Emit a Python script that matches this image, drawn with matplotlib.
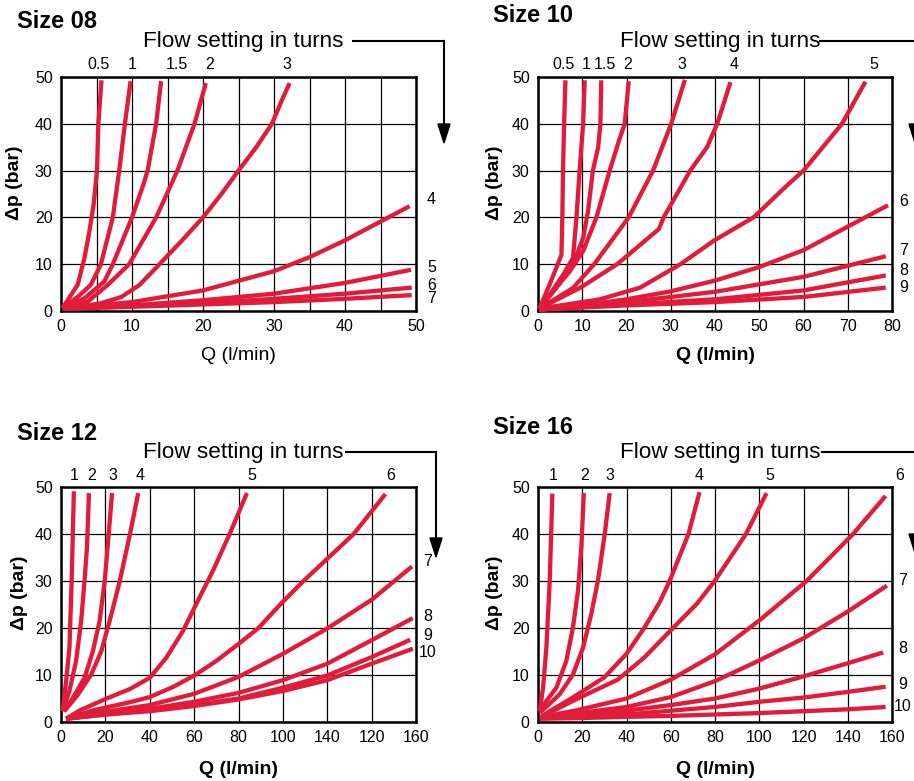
import matplotlib
matplotlib.use('Agg')
import matplotlib.pyplot as plt
from matplotlib.lines import Line2D
from matplotlib.patches import Polygon

plt.rcParams['font.family'] = ['Liberation Sans', 'DejaVu Sans']

RED = '#e31b3b'
W, H = 914, 781

# ---- Size 08 ----
s08_turns = ['0.5', '1', '1.5', '2', '3', '4', '5', '6', '7']
s08_q = [
    [0.2, 2.35, 3.3, 4.0, 4.6, 5.07, 5.26, 5.7],
    [0.2, 2.5, 4.2, 5.6, 7.3, 8.2, 9.0, 9.8],
    [0.2, 3.3, 6.1, 7.3, 10.0, 11.6, 12.2, 13.4, 14.1],
    [0.2, 3.75, 6.6, 9.6, 13.4, 16.4, 18.8, 20.4],
    [0.3, 5.5, 8.5, 11.0, 13.5, 17.0, 20.0, 22.6, 25.0, 27.5, 29.7, 31.1, 32.2],
    [0.3, 10, 20, 30, 35, 40, 49.1],
    [0.3, 10, 20, 30, 40, 49.3],
    [0.3, 10, 20, 30, 40, 49.4],
    [0.3, 10, 20, 30, 40, 49.4],
]
s08_dp = [
    [0.6, 5.6, 11.3, 17.0, 22.8, 30.0, 40.0, 49.3],
    [0.6, 3.2, 5.6, 9.9, 20.0, 30.0, 40.0, 49.1],
    [0.6, 2.7, 6.3, 10.0, 20.0, 27.0, 30.0, 40.0, 49.1],
    [0.5, 2.0, 5.6, 10.0, 20.0, 30.0, 40.0, 48.7],
    [0.5, 1.6, 3.0, 5.5, 9.4, 15.0, 20.0, 25.0, 30.0, 35.0, 40.0, 45.0, 48.7],
    [0.5, 1.9, 4.4, 8.5, 11.5, 15.1, 22.4],
    [0.5, 1.2, 2.3, 3.7, 6.0, 8.8],
    [0.5, 1.0, 1.7, 2.6, 3.7, 5.0],
    [0.5, 0.9, 1.4, 1.9, 2.6, 3.4],
]

# ---- Size 10 ----
s10_turns = ['0.5', '1', '1.5', '2', '3', '4', '5', '6', '7', '8', '9']
s10_q = [
    [0.3, 2.6, 5.3, 5.5, 5.65, 5.9, 6.2],
    [0.3, 2.6, 5.65, 7.9, 8.7, 9.4, 10.2, 10.55],
    [0.3, 4.1, 7.9, 10.2, 11.3, 12.4, 13.6, 14.1, 14.3],
    [0.3, 3.4, 7.2, 10.2, 13.2, 16.2, 18.3, 19.6, 20.5],
    [0.3, 7.9, 12.7, 20.5, 26.0, 30.1, 33.2],
    [0.3, 9.6, 17.9, 27.3, 28.4, 34.4, 38.2, 40.5, 43.5],
    [0.3, 14.0, 23.1, 32.2, 39.7, 48.7, 55.9, 60.0, 68.7, 74.0],
    [0.3, 10, 20, 30, 40, 50, 60, 79.1],
    [0.3, 20, 40, 60, 78.6],
    [0.3, 20, 40, 60, 78.6],
    [0.3, 20, 40, 60, 78.6],
]
s10_dp = [
    [0.5, 5.6, 12.0, 20.0, 30.0, 40.0, 49.3],
    [0.5, 3.4, 7.7, 11.3, 20.0, 30.0, 40.0, 49.3],
    [0.5, 4.9, 9.9, 15.6, 21.3, 30.0, 35.0, 40.0, 49.3],
    [0.5, 4.2, 8.5, 12.8, 20.0, 30.0, 36.4, 40.0, 49.1],
    [0.5, 4.9, 10.0, 20.0, 30.0, 40.0, 49.4],
    [0.5, 5.0, 10.0, 17.5, 20.0, 30.0, 35.0, 40.0, 48.9],
    [0.5, 2.5, 5.0, 10.0, 15.0, 20.0, 26.5, 30.0, 40.0, 49.0],
    [0.3, 1.2, 2.5, 4.2, 6.5, 9.4, 13.0, 22.6],
    [0.3, 1.9, 4.1, 7.3, 11.7],
    [0.3, 1.4, 2.5, 4.4, 7.6],
    [0.3, 1.2, 1.9, 3.0, 5.0],
]

# ---- Size 12 ----
s12_turns = ['1', '2', '3', '4', '5', '6', '7', '8', '9', '10']
s12_xticklabels = ['0', '20', '40', '60', '80', '100', '140', '120', '160']
s12_q = [
    [0.76, 2.6, 3.8, 4.8, 5.8],
    [1.2, 3.8, 6.8, 9.1, 10.6, 11.7, 12.6],
    [1.2, 5.3, 10.6, 14.4, 17.4, 19.7, 21.5, 23.0],
    [1.5, 7.6, 13.6, 18.2, 22.7, 26.5, 31.1, 34.8],
    [2.3, 8.6, 20.6, 31.0, 40.0, 47.5, 55.0, 61.8, 68.6, 76.1, 83.8],
    [2.3, 14.6, 31.0, 40.0, 50.7, 60.5, 70.0, 80.0, 89.0, 98.8, 109.3, 120.6, 131.9, 146.2],
    [2.3, 20, 40, 60, 80, 100, 120, 140, 158.2],
    [2.3, 20, 40, 60, 80, 100, 120, 140, 158.5],
    [2.3, 20, 40, 60, 80, 100, 120, 140, 157.4],
    [2.3, 20, 40, 60, 80, 100, 120, 140, 158.6],
]
s12_dp = [
    [2.3, 10.0, 15.8, 30.0, 49.1],
    [3.0, 6.6, 13.0, 21.5, 30.0, 37.2, 48.7],
    [2.3, 5.1, 9.4, 15.1, 21.5, 30.0, 40.0, 48.7],
    [2.3, 5.8, 10.1, 15.1, 22.9, 30.0, 40.0, 48.7],
    [0.7, 2.5, 5.0, 7.0, 9.4, 13.7, 19.4, 25.9, 32.3, 40.1, 48.7],
    [0.7, 2.5, 4.2, 5.3, 7.5, 10.0, 13.0, 16.6, 20.0, 25.0, 30.0, 35.0, 40.0, 48.5],
    [0.7, 2.2, 3.6, 6.0, 9.6, 14.5, 19.9, 26.0, 33.1],
    [0.7, 1.8, 2.8, 4.3, 6.2, 8.9, 12.4, 17.4, 22.1],
    [0.7, 1.6, 2.5, 3.6, 5.0, 7.3, 9.9, 13.8, 17.5],
    [0.7, 1.6, 2.3, 3.4, 4.8, 6.6, 8.9, 12.4, 15.6],
]

# ---- Size 16 ----
s16_turns = ['1', '2', '3', '4', '5', '6', '7', '8', '9', '10']
s16_q = [
    [0.75, 2.3, 3.8, 5.3, 6.5],
    [0.75, 2.3, 8.3, 12.8, 15.8, 18.1, 19.6, 20.7],
    [0.75, 2.3, 9.8, 15.8, 20.4, 24.1, 27.1, 30.2, 32.4],
    [1.0, 6.0, 15.0, 30.0, 40.0, 48.0, 55.0, 59.5, 68.0, 73.0],
    [1.0, 18.0, 36.0, 48.0, 61.0, 71.7, 80.0, 94.0, 103.3],
    [1.0, 17.6, 40.0, 60.0, 80.0, 100.0, 121.4, 142.4, 157.1],
    [1.0, 20, 40, 60, 80, 100, 120, 140, 157.7],
    [1.0, 20, 40, 60, 80, 100, 120, 140, 156.0],
    [1.0, 20, 40, 60, 80, 100, 120, 140, 157.1],
    [1.0, 20, 40, 60, 80, 100, 120, 140, 157.1],
]
s16_dp = [
    [2.3, 7.3, 15.9, 30.1, 48.6],
    [2.3, 3.5, 7.3, 13.0, 20.1, 28.0, 37.3, 48.7],
    [2.0, 2.6, 5.9, 10.1, 15.9, 23.0, 30.1, 40.1, 48.7],
    [1.0, 2.5, 5.0, 9.5, 14.5, 20.0, 25.5, 30.0, 40.0, 48.9],
    [1.0, 5.0, 9.0, 13.7, 20.0, 25.1, 30.1, 40.0, 48.7],
    [1.0, 2.5, 5.0, 9.0, 14.4, 21.6, 30.0, 40.0, 48.1],
    [0.8, 2.0, 3.2, 5.3, 8.7, 13.1, 17.8, 23.5, 29.0],
    [0.8, 1.4, 2.4, 3.6, 5.0, 7.1, 9.7, 12.5, 14.8],
    [0.8, 1.1, 1.6, 2.4, 3.2, 4.3, 5.2, 6.4, 7.5],
    [0.7, 0.85, 1.1, 1.3, 1.6, 1.9, 2.3, 2.7, 3.2],
]


def fx(x):
    return x / W


def fy(y):
    return 1 - y / H


def panel(rect, qs, dps, xmax, xstep, xminor, xlabels=None, qbold=True):
    ax = fig.add_axes(rect)
    ax.set_xlim(0, xmax)
    ax.set_ylim(0, 50)
    ax.set_xticks(range(0, xmax + 1, xstep))
    if xlabels is not None:
        ax.set_xticklabels(xlabels)
    ax.set_xticks(range(0, xmax + 1, xminor), minor=True)
    ax.set_yticks(range(0, 51, 10))
    ax.grid(True, which='both', color='black', lw=0.9)
    ax.tick_params(which='both', length=0, labelsize=11.5, pad=6)
    ax.set_axisbelow(True)
    for s in ax.spines.values():
        s.set_linewidth(1.8)
    for q, dp in zip(qs, dps):
        ax.plot(q, dp, color=RED, lw=3.1, solid_capstyle='butt',
                solid_joinstyle='round', clip_on=False, zorder=3)
    ax.set_xlabel('Q (l/min)', fontsize=14,
                  fontweight='bold' if qbold else 'normal')
    ax.set_ylabel('Δp (bar)', fontsize=14, fontweight='bold')
    return ax


def curve_labels(ax, names, xs, ys):
    for n, x, y in zip(names, xs, ys):
        ax.text(x, y, n, ha='center', va='center', fontsize=11.5, clip_on=False)


def flow_arrow(tx, ty, x0, x1, ybot):
    fig.text(fx(tx), fy(ty), 'Flow setting in turns', fontsize=16.2,
             ha='left', va='center')
    fig.add_artist(Line2D([fx(x0), fx(x1)], [fy(ty - 1), fy(ty - 1)],
                          transform=fig.transFigure, color='black', lw=1.5))
    fig.add_artist(Line2D([fx(x1), fx(x1)], [fy(ty - 1), fy(ybot - 18)],
                          transform=fig.transFigure, color='black', lw=1.5))
    fig.add_artist(Polygon([(fx(x1 - 6), fy(ybot - 19)), (fx(x1 + 6), fy(ybot - 19)),
                            (fx(x1), fy(ybot))], closed=True,
                           transform=fig.transFigure, color='black'))


fig = plt.figure(figsize=(W / 100, H / 100), dpi=100)

ax1 = panel([fx(61), fy(311), fx(355), 234 / H], s08_q, s08_dp, 50, 10, 5, qbold=False)
ax1.yaxis.set_label_coords(-0.107, 0.55)
ax1.xaxis.set_label_coords(0.5, -0.155)
curve_labels(ax1, s08_turns[:5], [5.35, 10, 16.3, 21, 31.8], [52.7] * 5)
curve_labels(ax1, s08_turns[5:], [52.2] * 4, [23.9, 9.4, 5.5, 2.6])

ax2 = panel([fx(538), fy(311), fx(354), 234 / H], s10_q, s10_dp, 80, 10, 10)
ax2.yaxis.set_label_coords(-0.099, 0.55)
ax2.xaxis.set_label_coords(0.5, -0.155)
curve_labels(ax2, s10_turns[:7], [5.8, 10.8, 15.1, 20.3, 32.5, 44.4, 76], [52.6] * 7)
curve_labels(ax2, s10_turns[7:], [82.6] * 4, [23.4, 13.0, 8.7, 5.1])

ax3 = panel([fx(61), fy(722), fx(355), 235 / H], s12_q, s12_dp, 160, 20, 20,
            xlabels=s12_xticklabels)
ax3.yaxis.set_label_coords(-0.093, 0.55)
ax3.xaxis.set_label_coords(0.5, -0.165)
curve_labels(ax3, s12_turns[:6], [5.9, 13.8, 23.2, 35.6, 86, 148.4], [52.4] * 6)
curve_labels(ax3, s12_turns[6:], [165.3] * 4, [34.1, 22.4, 18.3, 14.7])

ax4 = panel([fx(538), fy(722), fx(354), 235 / H], s16_q, s16_dp, 160, 20, 20)
ax4.yaxis.set_label_coords(-0.099, 0.55)
ax4.xaxis.set_label_coords(0.5, -0.165)
curve_labels(ax4, s16_turns[:6], [6.8, 21, 32.6, 72.8, 104.8, 163.5], [52.5] * 6)
curve_labels(ax4, s16_turns[6:], [165] * 4, [30.1, 15.7, 8.0, 3.3])

# titles
for t, x, y in [('Size 08', 17, 22), ('Size 10', 493, 15),
                ('Size 12', 17, 433), ('Size 16', 493, 427)]:
    fig.text(fx(x), fy(y), t, fontsize=17, fontweight='bold', ha='left', va='center')

flow_arrow(143, 42, 353, 444, 143)
flow_arrow(620, 42, 820, 915, 143)
flow_arrow(143, 453, 346, 436, 557)
flow_arrow(620, 453, 822, 915, 553)

fig.savefig('out.png', dpi=100)
